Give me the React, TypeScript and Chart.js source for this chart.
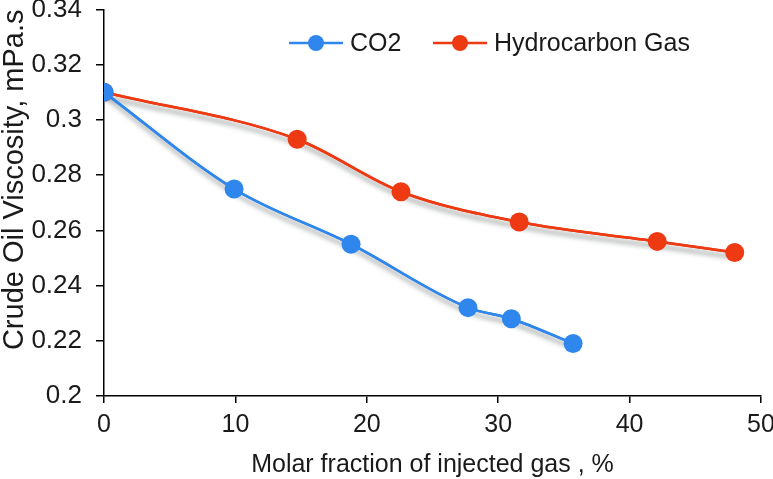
import React, { useEffect, useRef } from "react";
import { Chart, registerables } from "chart.js";

Chart.register(...registerables);

const co2X = [0, 9.9, 18.8, 27.7, 31.0, 35.7];
const co2Y = [0.31, 0.275, 0.255, 0.232, 0.228, 0.219];
const hcX = [0, 14.7, 22.6, 31.6, 42.1, 48.0];
const hcY = [0.31, 0.293, 0.274, 0.263, 0.256, 0.252];
const seriesNames = ["CO2", "Hydrocarbon Gas"];
const xTitle = "Molar fraction of injected gas , %";
const yTitle = "Crude Oil Viscosity, mPa.s";

const BLUE = "#2f87ee";
const RED = "#ee3a12";
const TEXT = "#1a1a1a";
const FONT = "'Liberation Sans', Arial, Helvetica, sans-serif";

const shadowPlugin = {
  id: "lineShadow",
  beforeDatasetsDraw(chart: any) {
    const ctx = chart.ctx;
    chart.data.datasets.forEach((_: any, i: number) => {
      const meta = chart.getDatasetMeta(i);
      if (!meta.dataset) return;
      ctx.save();
      ctx.shadowColor = "rgba(60,70,70,0.6)";
      ctx.shadowBlur = 5;
      ctx.shadowOffsetX = 2;
      ctx.shadowOffsetY = 5;
      meta.dataset.draw(ctx, chart.chartArea);
      ctx.restore();
    });
  },
};

const insideLegend = {
  id: "insideLegend",
  afterDraw(chart: any, _args: any, opts: any) {
    const ctx = chart.ctx;
    const items = opts.items || [];
    ctx.save();
    chart.data.datasets.forEach((ds: any, i: number) => {
      const it = items[i];
      if (!it) return;
      ctx.strokeStyle = ds.borderColor;
      ctx.lineWidth = 2.5;
      ctx.beginPath();
      ctx.moveTo(it.x, it.y);
      ctx.lineTo(it.x + opts.lineLen, it.y);
      ctx.stroke();
      ctx.fillStyle = ds.backgroundColor;
      ctx.beginPath();
      ctx.arc(it.x + opts.lineLen / 2, it.y, opts.radius, 0, Math.PI * 2);
      ctx.fill();
      ctx.fillStyle = TEXT;
      ctx.font = `${opts.fontSize}px ${FONT}`;
      ctx.textBaseline = "middle";
      ctx.textAlign = "left";
      ctx.fillText(ds.label, it.x + opts.lineLen + opts.gap, it.y + 1);
    });
    ctx.restore();
  },
};

export default function App() {
  const ref = useRef<HTMLCanvasElement>(null);
  useEffect(() => {
    if (!ref.current) return;
    const chart = new Chart(ref.current, {
      type: "line",
      data: {
        datasets: [
          {
            label: seriesNames[0],
            data: co2X.map((x, i) => ({ x, y: co2Y[i] })),
            borderColor: BLUE,
            backgroundColor: BLUE,
            borderWidth: 2.5,
            pointRadius: 9.5,
            pointBorderWidth: 0,
            cubicInterpolationMode: "monotone",
          },
          {
            label: seriesNames[1],
            data: hcX.map((x, i) => ({ x, y: hcY[i] })),
            borderColor: RED,
            backgroundColor: RED,
            borderWidth: 2.5,
            pointRadius: 9.5,
            pointBorderWidth: 0,
            cubicInterpolationMode: "monotone",
          },
        ],
      },
      options: {
        animation: false,
        responsive: false,
        maintainAspectRatio: false,
        layout: { padding: { left: 0, top: 7, right: 12, bottom: 0 } },
        plugins: {
          legend: { display: false },
          tooltip: { enabled: false },
          insideLegend: {
            items: [
              { x: 289, y: 43 },
              { x: 433, y: 43 },
            ],
            lineLen: 54,
            radius: 8,
            gap: 7,
            fontSize: 25,
          },
        } as any,
        scales: {
          x: {
            type: "linear",
            min: 0,
            max: 50,
            ticks: {
              stepSize: 10,
              color: TEXT,
              font: { family: FONT, size: 25 },
              padding: 7,
              maxRotation: 0,
            },
            grid: {
              display: true,
              drawOnChartArea: false,
              drawTicks: true,
              tickLength: 7,
              color: "#000",
              lineWidth: 1.5,
            },
            border: { display: true, color: "#000", width: 1.5 },
            title: {
              display: true,
              text: xTitle,
              color: TEXT,
              font: { family: FONT, size: 25, lineHeight: 1.1 },
              padding: { top: 0, bottom: 0 },
            },
            afterFit(scale: any) {
              scale.height = 83;
              scale.paddingLeft = 0;
              scale.paddingRight = 0;
            },
          },
          y: {
            type: "linear",
            min: 0.2,
            max: 0.34,
            ticks: {
              stepSize: 0.02,
              color: TEXT,
              font: { family: FONT, size: 26 },
              padding: 14,
              callback: (v: any) => String(Math.round(Number(v) * 100) / 100),
            },
            grid: {
              display: true,
              drawOnChartArea: false,
              drawTicks: true,
              tickLength: 8,
              color: "#000",
              lineWidth: 1.5,
            },
            border: { display: true, color: "#000", width: 1.5 },
            title: {
              display: true,
              text: yTitle,
              color: TEXT,
              align: "end",
              font: { family: FONT, size: 29, lineHeight: 1 },
              padding: { top: 0, bottom: 0 },
            },
            afterFit(scale: any) {
              scale.width = 104;
              scale.paddingTop = 0;
              scale.paddingBottom = 0;
            },
          },
        },
      },
      plugins: [shadowPlugin, insideLegend],
    } as any);
    return () => chart.destroy();
  }, []);
  return (
    <div style={{ position: "fixed", left: 0, top: 0, width: 773, height: 479, background: "#fff" }}>
      <canvas ref={ref} width={773} height={479} style={{ width: 773, height: 479 }} />
    </div>
  );
}
